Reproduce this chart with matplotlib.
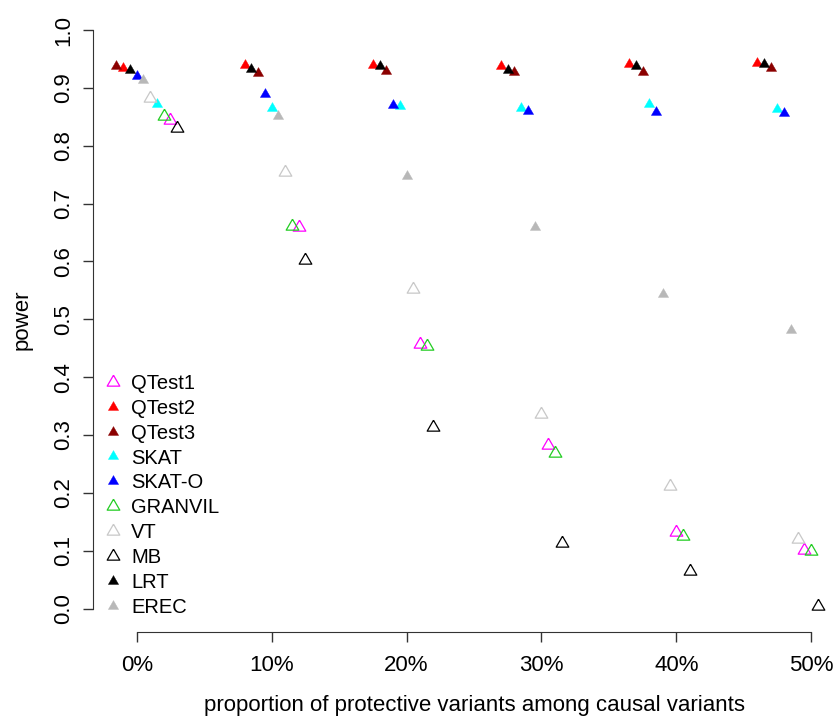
import numpy as np
import matplotlib
matplotlib.use('Agg')
from matplotlib import pyplot as plt

plt.rcParams['font.family'] = ['Liberation Sans', 'DejaVu Sans']

# Proportion of protective variants among causal variants (%)
proportions = [0, 10, 20, 30, 40, 50]
tick_labels = ['0%', '10%', '20%', '30%', '40%', '50%']

methods = ['QTest1', 'QTest2', 'QTest3', 'SKAT', 'SKAT-O',
           'GRANVIL', 'VT', 'MB', 'LRT', 'EREC']

# Power per method, one value per proportion
qtest1 = [0.845, 0.659, 0.457, 0.283, 0.133, 0.102]
qtest2 = [0.935, 0.940, 0.940, 0.937, 0.941, 0.943]
qtest3 = [0.938, 0.925, 0.929, 0.927, 0.928, 0.935]
skat = [0.873, 0.866, 0.869, 0.866, 0.873, 0.863]
skat_o = [0.920, 0.890, 0.871, 0.860, 0.858, 0.856]
granvil = [0.851, 0.661, 0.453, 0.269, 0.126, 0.099]
vt = [0.883, 0.754, 0.553, 0.337, 0.211, 0.120]
mb = [0.830, 0.602, 0.314, 0.114, 0.065, 0.004]
lrt = [0.931, 0.932, 0.938, 0.931, 0.937, 0.941]
erec = [0.913, 0.851, 0.747, 0.660, 0.543, 0.481]

power = np.array([qtest1, qtest2, qtest3, skat, skat_o,
                  granvil, vt, mb, lrt, erec])

colors = ['#ff00ff', '#ff0000', '#8b0000', '#00ffff', '#0000ff',
          '#22cc22', '#c8c8c8', '#000000', '#000000', '#b8b8b8']
hollow = [True, False, False, False, False, True, True, True, False, False]

# equilateral triangle centred on its centroid, like R's pch 2 / 17
tri = [(0, 1), (-0.866, -0.5), (0.866, -0.5), (0, 1)]

# within each proportion the methods are spread out, ordered by power
p = np.array(proportions, dtype=float)
xpos = np.zeros_like(power)
for g in range(len(proportions)):
    order = np.argsort(-power[:, g], kind='stable')
    rank = np.empty(len(methods))
    rank[order] = np.arange(len(methods))
    xpos[:, g] = 0.95 * p[g] - 1.5 + 0.5 * rank

W, H = 837, 718
fig = plt.figure(figsize=(W / 100, H / 100), dpi=100)
# plot region runs a little past the right edge of the image
ax = fig.add_axes([93 / W, (H - 631.7) / H, (857 - 93) / W, (631.7 - 6.9) / H])

for i, name in enumerate(methods):
    if hollow[i]:
        ax.plot(xpos[i], power[i], linestyle='none', marker=tri, ms=10.5,
                mfc='none', mec=colors[i], mew=0.9, label=name)
    else:
        ax.plot(xpos[i], power[i], linestyle='none', marker=tri, ms=8.5,
                mfc=colors[i], mec=colors[i], mew=0.3, label=name)

ax.set_xlim(-3.24, -3.24 + (857 - 93) / 13.49)
ax.set_ylim(-0.04, 1.04)

for s in ['top', 'right']:
    ax.spines[s].set_visible(False)
ax.spines['bottom'].set_bounds(0, 50)
ax.spines['left'].set_bounds(0, 1)
ax.spines['bottom'].set_color('#333333')
ax.spines['left'].set_color('#333333')

ax.set_xticks(proportions)
ax.set_xticklabels(tick_labels)
ax.set_yticks(np.arange(0, 1.01, 0.1))
ax.set_yticklabels(['%.1f' % v for v in np.arange(0, 1.01, 0.1)],
                   rotation=90, va='center')
ax.tick_params(length=7.5, width=1, color='#333333', labelsize=16)
ax.tick_params(axis='x', pad=9)
ax.tick_params(axis='y', pad=6)

ax.set_xlabel('proportion of protective variants among causal variants',
              fontsize=16, labelpad=14)
ax.set_ylabel('power', fontsize=16, labelpad=15)

ax.legend(loc='upper left', bbox_to_anchor=(103 / W, (H - 374) / H),
          bbox_transform=fig.transFigure, frameon=False, fontsize=14.5,
          handlelength=1.0, handletextpad=0.4, labelspacing=0.29,
          borderpad=0, borderaxespad=0)

fig.savefig('out.png', dpi=100)
